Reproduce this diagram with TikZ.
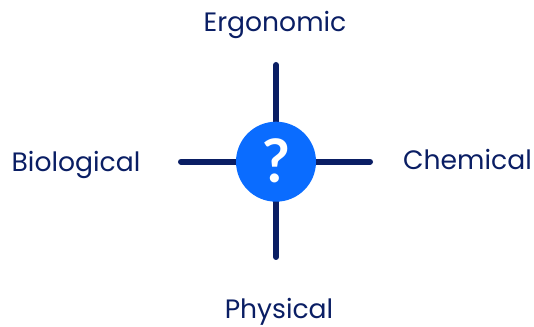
\documentclass[tikz,border=0pt]{standalone}
\usepackage{fontspec}
\setmainfont{Poppins}
\newfontfamily\qfont{Lato}
\definecolor{navy}{HTML}{0A1E64}
\definecolor{qblue}{HTML}{0A6CFF}
\begin{document}
\begin{tikzpicture}[x=1pt,y=1pt,
  arm/.style={draw=navy,line width=6pt,line cap=round},
  lbl/.style={text=navy,font=\fontsize{26.6}{30}\selectfont,anchor=base,inner sep=0pt},
  qcirc/.style={circle,fill=qblue,minimum size=80pt,inner sep=0pt}]
\useasboundingbox (0,0) rectangle (534,326);
\coordinate (t) at (276,261);
\coordinate (b) at (276,69);
\coordinate (l) at (181,164.3);
\coordinate (r) at (370,164.3);
\draw[arm] (t) -- (b);
\draw[arm] (l) -- (r);
\node[qcirc] (q) at (276,164.3) {};
\node[text=white,font=\qfont\bfseries\fontsize{60}{62}\selectfont,anchor=base,inner sep=0pt] (qm) at (q.center) [yshift=-21pt] {?};
\node[lbl] (ergo) at (275,294) {Ergonomic};
\node[lbl] (bio) at (76,154.3) {Biological};
\node[lbl] (chem) at (467.5,156) {Chemical};
\node[lbl] (phys) at (279,8) {Physical};
\end{tikzpicture}
\end{document}
